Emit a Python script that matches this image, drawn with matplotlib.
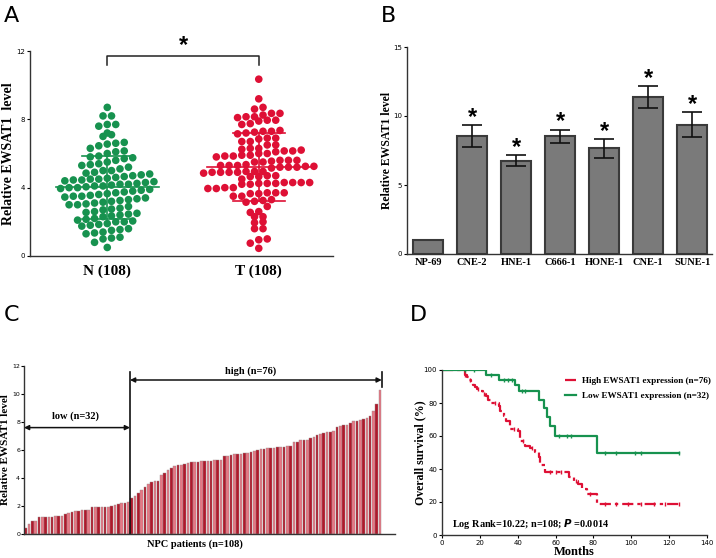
import numpy as np
import matplotlib
matplotlib.use('Agg')
import matplotlib.pyplot as plt

SERIF = 'Liberation Serif'
SANS = 'Liberation Sans'

# ---- panel A: relative level, normal vs tumour ----
n_vals = [0.5, 0.8, 1.0, 1.05, 1.1, 1.3, 1.35, 1.4, 1.5, 1.55,
          1.6, 1.75, 1.8, 1.85, 1.9, 2.0, 2.0, 2.05, 2.1, 2.15, 2.2,
          2.3, 2.35, 2.4, 2.45, 2.5, 2.55, 2.6, 2.7, 2.75, 2.8,
          2.9, 3.0, 3.0, 3.05, 3.1, 3.15, 3.2, 3.25, 3.3, 3.35, 3.4,
          3.45, 3.5, 3.5, 3.55, 3.6, 3.65, 3.7, 3.75, 3.8, 3.85,
          3.9, 3.95, 4.0, 4.0, 4.05, 4.1, 4.1, 4.15, 4.2, 4.2,
          4.25, 4.3, 4.35, 4.4, 4.45, 4.45, 4.5, 4.5, 4.55, 4.6, 4.65,
          4.7, 4.75, 4.8, 4.85, 4.9, 5.0, 5.0, 5.1, 5.2, 5.3,
          5.35, 5.4, 5.5, 5.6, 5.7, 5.75, 5.8, 5.85, 6.0, 6.1,
          6.15, 6.3, 6.45, 6.55, 6.6, 6.65, 7.0, 7.1, 7.2, 7.6,
          7.7, 7.7, 8.2, 8.2, 8.7]
t_vals = [10.35, 9.2, 8.7, 8.6, 8.35, 8.35, 8.25, 8.15, 8.15, 8.1,
          7.95, 7.95, 7.9, 7.75, 7.7, 7.35, 7.3, 7.3, 7.25, 7.2,
          7.15, 6.9, 6.9, 6.85, 6.7, 6.7, 6.5, 6.5, 6.3, 6.3,
          6.25, 6.2, 6.15, 6.15, 6.1, 6.0, 6.0, 5.9, 5.9, 5.85,
          5.85, 5.8, 5.6, 5.6, 5.6, 5.55, 5.5, 5.5, 5.35, 5.3,
          5.3, 5.3, 5.25, 5.25, 5.2, 5.2, 5.2, 5.15, 4.95, 4.95,
          4.95, 4.9, 4.9, 4.9, 4.9, 4.85, 4.7, 4.7, 4.65,
          4.65, 4.5, 4.3, 4.3, 4.3, 4.3, 4.25, 4.25, 4.25, 4.2,
          4.2, 4.0, 4.0, 3.95, 3.95, 3.7, 3.7, 3.7, 3.65, 3.65,
          3.5, 3.5, 3.3, 3.25, 3.2, 3.15, 2.9, 2.6, 2.55, 2.3,
          2.3, 2.0, 1.95, 1.6, 1.6, 1.0, 0.95, 0.75, 0.45]
groups = ['N (108)', 'T (108)']
group_colors = ['#17924f', '#de1035']

# ---- panel B: cell lines ----
cell_lines = ['NP-69', 'CNE-2', 'HNE-1', 'C666-1', 'HONE-1', 'CNE-1', 'SUNE-1']
cell_means = [1.0, 8.55, 6.77, 8.52, 7.65, 11.37, 9.36]
cell_err = [0.0, 0.8, 0.4, 0.5, 0.7, 0.8, 0.9]
cell_sig = [False, True, True, True, True, True, True]

# ---- panel C: sorted patient levels ----
low_vals = [0.40, 0.72, 0.92, 0.95, 1.20, 1.20, 1.22, 1.22, 1.24, 1.26,
            1.26, 1.28, 1.40, 1.52, 1.60, 1.62, 1.65, 1.68, 1.70, 1.72,
            1.90, 1.92, 1.92, 1.93, 1.94, 1.95, 1.98, 2.08, 2.15, 2.20,
            2.25, 2.30]
high_vals = [2.60, 2.75, 2.95, 3.15, 3.35, 3.55, 3.70, 3.78, 3.80, 4.20,
             4.35, 4.60, 4.70, 4.88, 4.90, 4.92, 4.98, 5.05, 5.12, 5.15,
             5.15, 5.18, 5.20, 5.22, 5.25, 5.26, 5.28, 5.28, 5.55, 5.58,
             5.65, 5.68, 5.70, 5.72, 5.76, 5.80, 5.85, 5.90, 6.00, 6.05,
             6.10, 6.12, 6.14, 6.15, 6.18, 6.20, 6.25, 6.28, 6.30, 6.55,
             6.60, 6.68, 6.70, 6.72, 6.85, 6.90, 7.10, 7.15, 7.20, 7.28,
             7.30, 7.35, 7.65, 7.72, 7.80, 7.82, 7.95, 8.05, 8.10, 8.15,
             8.20, 8.30, 8.45, 8.80, 9.30, 10.30]

# ---- panel D: Kaplan-Meier steps (time, survival after the drop) ----
hi_t = [0, 10.5, 12, 13, 14, 15.5, 16.5, 17.5, 18.5, 20, 21.5, 23, 24.5, 26,
        30, 30.7, 32.5, 34, 36, 40.4, 41, 44, 46.5, 49, 51, 52, 54.5, 67,
        69.5, 72, 74, 76.5, 82, 125]
hi_s = [100, 100, 97, 95.5, 94, 92.5, 91, 89.5, 88.5, 87, 85.5, 84, 82, 80,
        78, 75, 72, 69, 64, 63, 57, 54, 52.5, 50.5, 47.5, 42.5, 38, 35,
        33, 31, 28, 25, 19, 19]
hi_cens = [12, 15, 19, 22, 28, 38, 43, 47.5, 57, 60, 63, 71, 78, 86, 92, 98,
           105, 112, 118, 125]
lo_t = [0, 23, 30, 38.7, 40.5, 51.5, 53.7, 55.5, 57.2, 59.5, 82, 125]
lo_s = [100, 97, 94, 91, 87, 82, 77, 71.5, 66, 60, 50, 50]
lo_cens = [12, 17, 26, 33, 35, 37, 42, 44, 62, 66, 68, 86, 92, 102, 105, 125]
km_labels = ['High EWSAT1 expression (n=76)', 'Low EWSAT1 expression (n=32)']


def frac(l, t, r, b):
    return [l / 716, 1 - b / 558, (r - l) / 716, (b - t) / 558]


def row_swarm(vals, row_h, dx):
    # Prism-like dot plot: group values into rows, spread each row sideways
    v = np.asarray(vals)
    rows = np.round(v / row_h).astype(int)
    xs = np.zeros(len(v))
    for r in np.unique(rows):
        idx = np.where(rows == r)[0]
        idx = idx[np.argsort(v[idx])]
        n = len(idx)
        offs = np.sort((np.arange(n) - (n - 1) / 2) * dx)
        xs[idx] = offs
    return xs


def style_small(ax):
    for s in ['top', 'right']:
        ax.spines[s].set_visible(False)
    for s in ['left', 'bottom']:
        ax.spines[s].set_color('#333333')
        ax.spines[s].set_linewidth(1.0)
    ax.tick_params(axis='y', labelsize=5, length=2.5, width=0.8, pad=1)


fig = plt.figure(figsize=(7.16, 5.58), dpi=100)

# ================= A =================
axA = fig.add_axes(frac(30, 51, 333, 256))
style_small(axA)
axA.set_xlim(-0.51, 1.49)
axA.set_ylim(0, 12)
axA.set_yticks([0, 4, 8, 12])
for gi, vals in enumerate([n_vals, t_vals]):
    v = np.array(vals)
    xs = row_swarm(v, 0.46, 0.056) + gi
    axA.scatter(xs, v, s=30, color=group_colors[gi], edgecolors='none', zorder=3, clip_on=False)
    m, sd = v.mean(), v.std(ddof=1)
    axA.plot([gi - 0.34, gi + 0.34], [m, m], color=group_colors[gi], lw=1.2, zorder=4)
    axA.plot([gi - 0.17, gi + 0.17], [m + sd, m + sd], color=group_colors[gi], lw=1.2, zorder=4)
    axA.plot([gi - 0.17, gi + 0.17], [m - sd, m - sd], color=group_colors[gi], lw=1.2, zorder=4)
    axA.plot([gi, gi], [m - sd, m + sd], color=group_colors[gi], lw=1.2, zorder=4)
axA.set_xticks([0, 1])
axA.set_xticklabels(groups, fontfamily=SERIF, fontweight='bold', fontsize=11)
axA.tick_params(axis='x', length=0, pad=6)
axA.set_ylabel('Relative EWSAT1  level', fontfamily=SERIF, fontweight='bold', fontsize=10)
axA.yaxis.set_label_coords(-0.05, 0.5)
axA.plot([0, 0, 1, 1], [11.2, 11.7, 11.7, 11.2], color='#222222', lw=1.1, clip_on=False)
axA.text(0.5, 12.35, '*', ha='center', va='center', fontsize=17, fontweight='bold', fontfamily=SANS)

# ================= B =================
axB = fig.add_axes(frac(407, 47, 712, 254))
style_small(axB)
xb = np.arange(len(cell_lines))
axB.bar(xb, cell_means, width=0.68, color='#7a7a7a', edgecolor='#3a3a3a', linewidth=1.5, zorder=2)
axB.errorbar(xb[1:], cell_means[1:], yerr=cell_err[1:], fmt='none', ecolor='#111111',
             elinewidth=1.2, capsize=7, capthick=1.2, zorder=3)
for i in range(len(cell_lines)):
    if cell_sig[i]:
        axB.text(xb[i], cell_means[i] + cell_err[i] + 0.55, '*', ha='center', va='center',
                 fontsize=17, fontweight='bold', fontfamily=SANS)
axB.set_xlim(-0.48, 6.45)
axB.set_ylim(0, 15)
axB.set_yticks([0, 5, 10, 15])
axB.set_xticks(xb)
axB.set_xticklabels(cell_lines, fontfamily=SERIF, fontweight='bold', fontsize=7.5)
axB.tick_params(axis='x', length=0, pad=3)
axB.set_ylabel('Relative EWSAT1 level', fontfamily=SERIF, fontweight='bold', fontsize=8.5)
axB.yaxis.set_label_coords(-0.046, 0.5)

# ================= C =================
axC = fig.add_axes(frac(24, 366, 395, 534))
style_small(axC)
axC.tick_params(axis='y', labelsize=4.5, length=2, pad=0.8)
all_vals = np.array(low_vals + high_vals)
xc = np.arange(len(all_vals))
bar_cols = ['#b0182b' if i % 2 == 0 else '#e87784' for i in xc]
axC.bar(xc, all_vals, width=0.8, color=bar_cols, edgecolor='#9a8a8a', linewidth=0.3, zorder=2)
axC.set_xlim(-0.5, 111.5)
axC.set_ylim(0, 12)
axC.set_yticks(np.arange(0, 13, 2))
axC.set_xticks([])
split = len(low_vals) - 0.5
end = len(all_vals) - 0.5
axC.plot([split, split], [0, 11.6], color='#111111', lw=1.2, clip_on=False)
axC.plot([end, end], [10.5, 11.6], color='#111111', lw=1.2, clip_on=False)
axC.annotate('', xy=(-0.5, 7.6), xytext=(split, 7.6),
             arrowprops=dict(arrowstyle='<|-|>', color='#111111', lw=1.1, mutation_scale=7,
                             shrinkA=0, shrinkB=0))
axC.annotate('', xy=(split, 11.0), xytext=(end, 11.0),
             arrowprops=dict(arrowstyle='<|-|>', color='#111111', lw=1.1, mutation_scale=7,
                             shrinkA=0, shrinkB=0))
axC.text(len(low_vals) / 2 - 1, 8.1, 'low (n=%d)' % len(low_vals), ha='center', va='bottom',
         fontfamily=SERIF, fontweight='bold', fontsize=7.5)
axC.text(68, 11.3, 'high (n=%d)' % len(high_vals), ha='center', va='bottom',
         fontfamily=SERIF, fontweight='bold', fontsize=7.5)
axC.set_xlabel('NPC patients (n=%d)' % len(all_vals), fontfamily=SERIF, fontweight='bold',
               fontsize=7.5, labelpad=6)
axC.xaxis.set_label_coords(0.46, -0.035)
axC.xaxis.label.set_va('top')
axC.set_ylabel('Relative EWSAT1 level', fontfamily=SERIF, fontweight='bold', fontsize=8.0)
axC.yaxis.set_label_coords(-0.039, 0.5)

# ================= D =================
axD = fig.add_axes(frac(442, 370, 707, 535))
style_small(axD)
axD.tick_params(axis='x', labelsize=5, length=2.5, width=0.8, pad=1)
red, green = group_colors[1], group_colors[0]
axD.step(hi_t, hi_s, where='post', color=red, lw=1.6, linestyle=(0, (5, 1.8, 1.5, 1.8)),
         label=km_labels[0])
axD.step(lo_t, lo_s, where='post', color=green, lw=1.6, label=km_labels[1])
hi_c_s = [hi_s[np.searchsorted(hi_t, c, side='right') - 1] for c in hi_cens]
lo_c_s = [lo_s[np.searchsorted(lo_t, c, side='right') - 1] for c in lo_cens]
axD.plot(hi_cens, hi_c_s, linestyle='none', marker='|', ms=3, mew=1.0, color=red)
axD.plot(lo_cens, lo_c_s, linestyle='none', marker='|', ms=3, mew=1.0, color=green)
axD.set_xlim(0, 140)
axD.set_ylim(0, 100)
axD.set_xticks(np.arange(0, 141, 20))
axD.set_yticks(np.arange(0, 101, 20))
leg = axD.legend(loc='upper right', bbox_to_anchor=(1.04, 1.0), frameon=False,
                 prop={'family': SERIF, 'weight': 'bold', 'size': 6.6},
                 handlelength=1.2, handletextpad=0.7, labelspacing=0.75, borderpad=0.2)
axD.text(5.5, 6.5, 'Log Rank=10.22; n=108; $\\bfit{P}$ =0.0014', ha='left', va='center',
         fontfamily=SERIF, fontweight='bold', fontsize=7.4)
axD.set_xlabel('Months', fontfamily=SERIF, fontweight='bold', fontsize=9, labelpad=0)
axD.set_ylabel('Overall survival (%)', fontfamily=SERIF, fontweight='bold', fontsize=8.5)
axD.yaxis.set_label_coords(-0.06, 0.5)

# panel letters
for lab, x, y in [('A', 4, 6), ('B', 381, 6), ('C', 4, 305), ('D', 410, 305)]:
    fig.text(x / 716, 1 - y / 558, lab, ha='left', va='top', fontsize=16, fontfamily='DejaVu Sans')

fig.savefig('out.png', dpi=100)
